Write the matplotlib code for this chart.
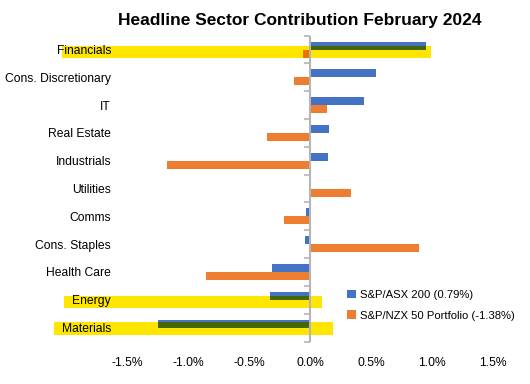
import matplotlib
matplotlib.use("Agg")
import matplotlib.pyplot as plt
from matplotlib.patches import Rectangle, Patch
import matplotlib.ticker as mticker
import numpy as np

plt.rcParams['font.family'] = ['Liberation Sans', 'DejaVu Sans']

categories = ["Financials", "Cons. Discretionary", "IT", "Real Estate", "Industrials",
              "Utilities", "Comms", "Cons. Staples", "Health Care", "Energy", "Materials"]
asx200 = [0.95, 0.54, 0.44, 0.155, 0.145, 0.01, -0.03, -0.045, -0.315, -0.325, -1.25]
nzx50 = [-0.06, -0.13, 0.14, -0.35, -1.17, 0.335, -0.21, 0.895, -0.855, 0.0, 0.01]
series_names = ["S&P/ASX 200 (0.79%)", "S&P/NZX 50 Portfolio (-1.38%)"]
xticks = [-1.5, -1.0, -0.5, 0.0, 0.5, 1.0, 1.5]
title = "Headline Sector Contribution February 2024"

# highlighter marks: category -> (x start, x end, y top offset, y bottom offset)
highlights = {"Financials": (-2.03, 0.99, -0.13, 0.30),
              "Energy": (-2.02, 0.095, -0.13, 0.29),
              "Materials": (-2.10, 0.185, -0.20, 0.25)}

blue = (68/255, 114/255, 196/255)
orange = (237/255, 125/255, 49/255)
yellow = (1.0, 230/255, 0.0)

def mult(c1, c2):
    return tuple(a*b for a, b in zip(c1, c2))

fig = plt.figure(figsize=(5.30, 3.84), dpi=100)
ax = fig.add_axes([127/530, 1-341.5/384, (493-127)/530, (341.5-35.7)/384])

y = np.arange(len(categories))
h = 0.29
ax.barh(y - h/2, asx200, height=h, color=blue, zorder=2)
ax.barh(y + h/2, nzx50, height=h, color=orange, zorder=2)

for name, (x0, x1, t, b) in highlights.items():
    i = categories.index(name)
    rect = Rectangle((x0, i + t), x1 - x0, b - t, facecolor=yellow, edgecolor='none',
                     zorder=0.5, clip_on=False)
    ax.add_patch(rect)
    for val, off, col in ((asx200[i], -h/2, blue), (nzx50[i], h/2, orange)):
        ov = ax.barh([i + off], [val], height=h, color=mult(col, yellow), zorder=2.1)
        for p in ov:
            p.set_clip_path(rect)

ax.set_xlim(xticks[0], xticks[-1])
ax.set_ylim(len(categories) - 0.5, -0.5)

# zero axis line with left tick marks at category boundaries
ax.axvline(0, color='#b4b4b4', lw=1.5, zorder=3)
bounds = np.arange(len(categories) + 1) - 0.5
ax.plot(np.zeros_like(bounds), bounds, linestyle='none', marker=0, markersize=4,
        markeredgewidth=1.2, color='#b4b4b4', zorder=3, clip_on=False)

for s in ax.spines.values():
    s.set_visible(False)
ax.set_yticks(y)
ax.set_yticklabels(categories, fontsize=8.7)
ax.tick_params(axis='y', length=0, pad=11.5)
ax.set_xticks(xticks)
ax.xaxis.set_major_formatter(mticker.FuncFormatter(lambda v, p: f"{v:.1f}%"))
ax.tick_params(axis='x', length=0, pad=11, labelsize=8.7)

fig.text(300/530, 1-20/384, title, ha='center', va='center', fontsize=12.5,
         fontweight='bold')

handles = [Patch(facecolor=blue), Patch(facecolor=orange)]
fig.legend(handles, series_names, loc='upper left', bbox_to_anchor=(345/530, 1-287.5/384),
           frameon=False, fontsize=8.1, handlelength=0.75, handleheight=0.75,
           handletextpad=0.4, labelspacing=0.95, borderaxespad=0, borderpad=0.2)

fig.savefig("out.png", dpi=100)
